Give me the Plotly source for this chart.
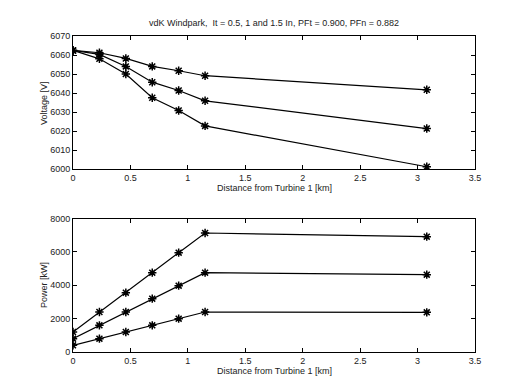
import plotly.graph_objects as go

distance_km = [0, 0.23, 0.46, 0.69, 0.92, 1.15, 3.08]

voltage_05 = [6062.4, 6061.2, 6058.2, 6054.0, 6051.7, 6049.1, 6041.7]
voltage_10 = [6062.4, 6060.3, 6054.0, 6045.7, 6041.3, 6035.9, 6021.3]
voltage_15 = [6062.4, 6058.0, 6050.0, 6037.5, 6030.8, 6022.7, 6001.2]

power_05 = [400, 800, 1200, 1600, 2000, 2400, 2380]
power_10 = [800, 1600, 2400, 3200, 3980, 4760, 4640]
power_15 = [1200, 2400, 3560, 4760, 5960, 7140, 6920]

x_ticks = [0, 0.5, 1, 1.5, 2, 2.5, 3, 3.5]
x_tick_labels = ["0", "0.5", "1", "1.5", "2", "2.5", "3", "3.5"]
v_ticks = [6000, 6010, 6020, 6030, 6040, 6050, 6060, 6070]
p_ticks = [0, 2000, 4000, 6000, 8000]

title_text = "vdK Windpark,  It = 0.5, 1 and 1.5 In, PFt = 0.900, PFn = 0.882"

FONT = "Liberation Sans, Arial, sans-serif"
TXT = "#222222"

W, H = 514, 382
L, R, T, B = 65, 47, 28, 38
pw, ph = W - L - R, H - T - B


def px(xp):
    return (xp - L) / pw


def py(yp):
    return (H - B - yp) / ph


fig = go.Figure()

line_style = dict(color="black", width=1.2)
marker_style = dict(symbol="asterisk-open", size=7, color="black",
                    line=dict(color="black", width=1.5))

for ys in (voltage_05, voltage_10, voltage_15):
    fig.add_trace(go.Scatter(x=distance_km, y=ys, mode="lines+markers",
                             line=line_style, marker=marker_style,
                             xaxis="x", yaxis="y", showlegend=False))
for ys in (power_05, power_10, power_15):
    fig.add_trace(go.Scatter(x=distance_km, y=ys, mode="lines+markers",
                             line=line_style, marker=marker_style,
                             xaxis="x2", yaxis="y2", showlegend=False))

axis_common = dict(showline=True, linecolor="black", linewidth=1,
                   mirror="ticks", ticks="inside", ticklen=4,
                   tickcolor="black", showgrid=False, zeroline=False,
                   tickfont=dict(family=FONT, size=9, color=TXT))

anns = []
for text, xp, yp, ang in [
    ("Distance from Turbine 1 [km]", 266, 180, 0),
    ("Distance from Turbine 1 [km]", 266, 363, 0),
    ("Voltage [V]", 36, 95, -90),
    ("Power [kW]", 36, 277, -90),
]:
    anns.append(dict(text=text, x=px(xp), y=py(yp), textangle=ang,
                     xref="paper", yref="paper", showarrow=False,
                     xanchor="center", yanchor="middle",
                     font=dict(family=FONT, size=9, color=TXT)))

fig.update_layout(
    width=W, height=H,
    paper_bgcolor="white", plot_bgcolor="white",
    margin=dict(l=L, r=R, t=T, b=B),
    title=dict(text=title_text, x=266 / W, xanchor="center",
               y=1 - 15 / H, yanchor="middle", xref="container",
               yref="container",
               font=dict(family=FONT, size=9, color=TXT)),
    xaxis=dict(domain=[0, 1], range=[0, 3.5], tickvals=x_ticks,
               ticktext=x_tick_labels, anchor="y", **axis_common),
    yaxis=dict(domain=[0.579, 1], range=[6000, 6070], tickvals=v_ticks,
               anchor="x", **axis_common),
    xaxis2=dict(domain=[0, 1], range=[0, 3.5], tickvals=x_ticks,
                ticktext=x_tick_labels, anchor="y2", **axis_common),
    yaxis2=dict(domain=[0, 0.422], range=[0, 8000], tickvals=p_ticks,
                anchor="x2", **axis_common),
    annotations=anns,
)

fig.write_html("out.html")
